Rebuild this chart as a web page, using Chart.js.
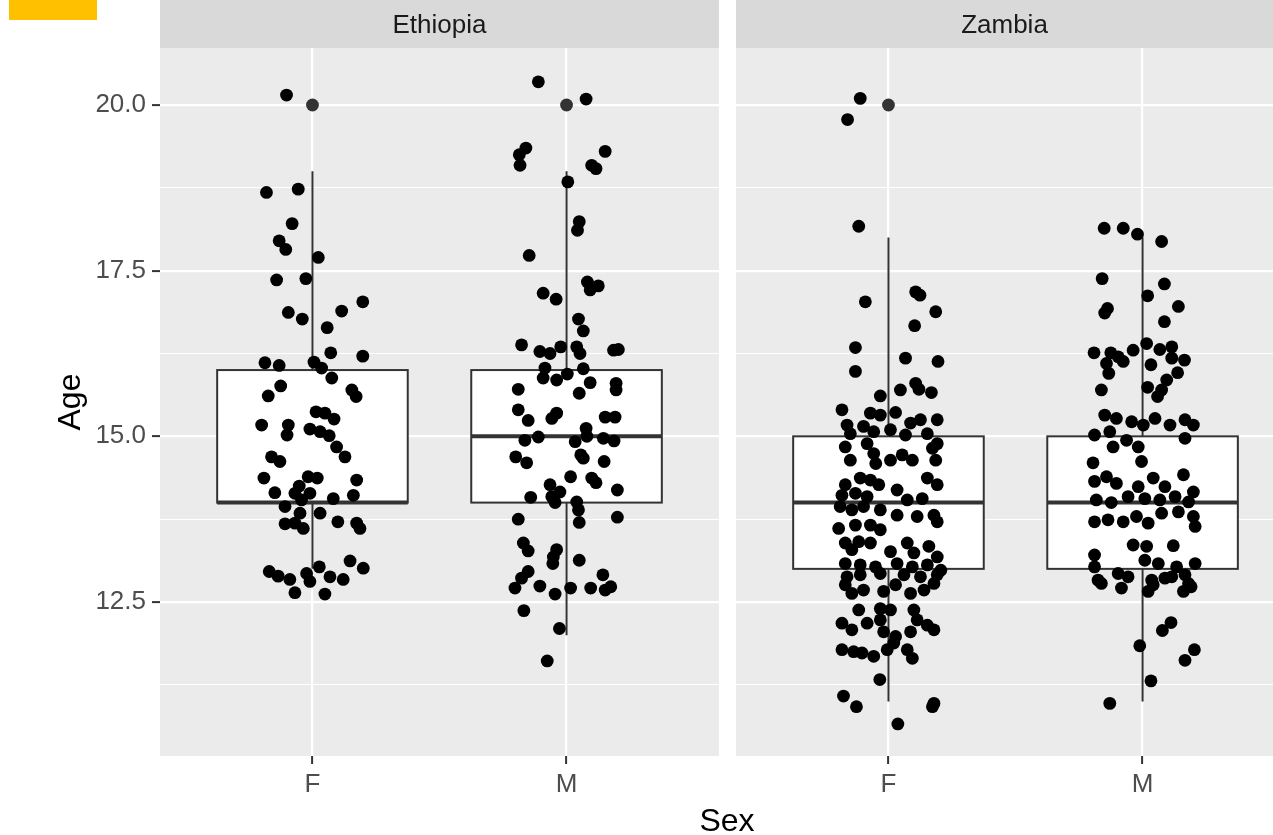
<!DOCTYPE html>
<html lang="en">
  <head>
    <meta charset="UTF-8" />
    <title>Age by Sex</title>
    <script src="https://cdn.jsdelivr.net/npm/chart.js"></script>
    <style>
      body { margin: 0; background: #fff; width: 1273px; height: 835px; overflow: hidden; position: relative; font-family: "Liberation Sans", Arial, sans-serif; }
      canvas { position: absolute; top: 0; }
      #left { left: 0; }
      #right { left: 736px; }
      #sexTitle { position: absolute; left: 627px; width: 200px; top: 804px; line-height: 32px; text-align: center; font-size: 32px; color: #000; }
      #mark { position: absolute; left: 9px; top: 0; width: 88px; height: 20px; background: #ffc000; }
    </style>
  </head>
  <body>
    <div id="mark"></div>
    <canvas id="left" width="719" height="835"></canvas>
    <canvas id="right" width="537" height="835"></canvas>
    <div id="sexTitle">Sex</div>

    <script>
      // axes
      const sexLabels = ["F", "M"];
      const sexPos = [1, 2];
      const yTicks = [11.25, 12.5, 13.75, 15, 16.25, 17.5, 18.75, 20];
      const yMajor = [12.5, 15, 17.5, 20];
      const yMin = 10.176;
      const yMax = 20.86;

      // boxplot stats: Ethiopia F, Ethiopia M, Zambia F, Zambia M
      const boxCenter = [1, 2, 1, 2];
      const whiskerLow = [13, 12, 11, 11];
      const boxQ1 = [14, 14, 13, 13];
      const boxMedian = [14, 15, 14, 14];
      const boxQ3 = [16, 16, 15, 15];
      const whiskerHigh = [19, 19, 18, 18];

      // outliers (exact values)
      const ethiopiaOutliers = [[1, 20], [2, 20]];
      const zambiaOutliers = [[1, 20]];

      // jittered points [x, age]
      const ethiopiaF = [
        [0.898,20.15],
        [0.819,18.68],[0.944,18.73],[0.920,18.21],[0.869,17.95],[0.895,17.82],[1.023,17.70],
        [0.859,17.36],[0.974,17.38],[1.198,17.03],[1.115,16.89],[0.905,16.87],[0.960,16.77],[1.058,16.64],
        [1.072,16.26],[1.198,16.21],[0.813,16.11],[0.869,16.07],[1.006,16.12],[1.036,16.03],
        [1.076,15.88],[0.875,15.76],[0.826,15.61],[1.155,15.70],[1.172,15.60],
        [1.014,15.37],[1.049,15.35],[1.085,15.26],[0.800,15.17],[0.905,15.17],[0.900,15.02],[0.990,15.11],[1.030,15.07],[1.066,15.01],
        [1.095,14.84],[1.128,14.69],[0.839,14.69],[0.872,14.62],
        [0.809,14.37],[0.983,14.39],[1.019,14.37],[0.948,14.25],[0.852,14.15],[0.931,14.14],[0.990,14.14],[1.174,14.34],[1.161,14.11],[1.082,14.06],[0.957,14.04],
        [0.892,13.94],[0.951,13.84],[1.030,13.84],[1.100,13.71],[1.174,13.69],[1.187,13.61],[0.892,13.68],[0.931,13.69],[0.964,13.61],
        [1.148,13.12],[1.200,13.01],[1.027,13.03],[0.830,12.96],[0.865,12.89],[0.911,12.84],[0.977,12.93],[0.990,12.81],[1.069,12.88],[1.121,12.84],[0.931,12.64],[1.049,12.62]
      ];
      const ethiopiaM = [
        [1.889,20.35],[2.077,20.09],
        [1.840,19.35],[1.814,19.25],[1.817,19.09],[2.152,19.30],[2.099,19.09],[2.116,19.04],[2.005,18.84],
        [2.050,18.24],[2.043,18.11],[1.853,17.73],[2.082,17.33],[2.125,17.27],[2.093,17.21],[1.908,17.16],[1.959,17.07],
        [2.047,16.77],[2.066,16.59],[1.823,16.38],[1.895,16.28],[1.935,16.25],[1.977,16.35],[2.040,16.35],[2.053,16.25],[2.185,16.30],[2.204,16.31],[1.915,16.03],[2.066,16.02],
        [1.908,15.88],[1.961,15.85],[2.003,15.94],[2.093,15.81],[2.195,15.80],[2.195,15.70],[1.810,15.71],[2.050,15.65],
        [1.810,15.40],[1.849,15.24],[1.942,15.27],[1.961,15.35],[2.152,15.29],[2.191,15.29],[2.077,15.12],[2.080,15.00],
        [1.836,14.94],[1.889,14.99],[2.034,14.92],[2.145,14.97],[2.187,14.93],
        [1.800,14.69],[1.843,14.60],[2.056,14.72],[2.066,14.67],[2.148,14.62],
        [2.016,14.39],[2.099,14.37],[2.116,14.30],[2.200,14.19],[1.935,14.27],[1.859,14.08],[1.942,14.09],[1.974,14.16],[1.955,14.00],[2.040,14.01],[2.047,13.89],
        [1.810,13.75],[2.200,13.78],[2.050,13.70],
        [1.830,13.39],[1.849,13.27],[1.961,13.29],[1.948,13.18],[1.946,13.08],[2.050,13.13],
        [1.849,12.96],[1.823,12.86],[1.797,12.71],[1.895,12.74],[1.955,12.62],[2.016,12.71],[2.095,12.71],[2.143,12.91],[2.152,12.68],[2.174,12.73],
        [1.832,12.37],[1.972,12.10],[1.924,11.61]
      ];
      const zambiaF = [
        [0.889,20.10],[0.839,19.78],[0.883,18.17],
        [1.107,17.18],[1.124,17.13],[0.909,17.03],[1.186,16.88],[1.103,16.67],[0.870,16.34],[1.067,16.18],[1.195,16.13],[0.870,15.98],
        [1.107,15.80],[1.120,15.71],[1.047,15.70],[1.169,15.66],[0.968,15.61],[0.817,15.40],[0.929,15.35],[1.028,15.36],[1.192,15.25],
        [0.968,15.32],[1.087,15.20],[1.126,15.25],
        [0.837,15.17],[0.850,15.04],[0.902,15.15],[0.942,15.07],[1.008,15.10],[1.067,15.02],[1.153,15.04],[1.192,14.89],
        [0.830,14.84],[0.916,14.89],[0.942,14.74],[0.850,14.64],[0.950,14.59],[1.008,14.64],[1.054,14.72],[1.094,14.64],[1.173,14.82],[1.186,14.64],
        [1.153,14.37],[1.192,14.27],[0.830,14.27],[0.889,14.37],[0.929,14.34],[0.962,14.27],[1.034,14.19],[0.817,14.11],[0.870,14.14],[0.916,14.09],[1.074,14.04],[1.133,14.06],
        [0.810,13.94],[0.856,13.89],[0.902,13.94],[0.968,13.89],[1.034,13.81],[1.113,13.79],[1.179,13.81],[0.804,13.61],[0.870,13.66],[0.929,13.66],[0.968,13.59],[1.192,13.71],
        [0.830,13.39],[0.883,13.41],[0.929,13.39],[0.856,13.29],[1.008,13.26],[1.074,13.39],[1.100,13.24],[1.159,13.34],[1.192,13.18],
        [0.830,13.08],[0.889,13.06],[0.949,13.03],[1.034,13.08],[1.094,13.03],[1.153,13.06],[1.206,12.98],
        [0.837,12.88],[0.889,12.91],[0.968,12.93],[1.061,12.91],[1.126,12.88],[1.192,12.91],
        [0.830,12.76],[0.856,12.63],[0.902,12.68],[0.981,12.66],[1.028,12.76],[1.087,12.63],[1.140,12.68],[1.179,12.78],
        [0.883,12.38],[0.968,12.40],[1.008,12.38],[1.100,12.38],[0.817,12.18],[0.856,12.08],[0.916,12.18],[0.968,12.23],[0.981,12.05],[1.028,11.98],[1.113,12.23],[1.153,12.15],[1.179,12.08],[1.087,12.05],
        [0.817,11.78],[0.863,11.75],[0.896,11.73],[0.942,11.68],[0.995,11.78],[1.021,11.88],[1.074,11.78],[1.094,11.65],
        [0.966,11.33],[0.823,11.08],[0.874,10.92],[1.179,10.97],[1.173,10.92],[1.037,10.66]
      ];
      const zambiaM = [
        [1.849,18.14],[1.924,18.14],[1.980,18.05],[2.075,17.94],
        [1.841,17.38],[2.086,17.30],[2.020,17.12],[2.141,16.96],[1.862,16.93],[1.851,16.86],[2.086,16.73],
        [1.809,16.26],[1.875,16.26],[1.904,16.20],[1.924,16.13],[1.858,16.10],[1.963,16.30],[2.016,16.40],[2.068,16.31],[2.115,16.35],[2.115,16.18],[2.165,16.15],[2.033,16.08],
        [1.867,15.95],[2.138,15.96],[2.095,15.85],[1.838,15.70],[2.020,15.74],[2.075,15.70],[2.059,15.60],
        [1.851,15.32],[1.897,15.27],[1.957,15.22],[2.003,15.17],[2.049,15.27],[2.108,15.17],[2.167,15.25],[2.200,15.17],
        [1.811,15.02],[1.871,15.07],[1.937,14.94],[2.167,14.97],[1.884,14.84],[1.983,14.84],
        [1.996,14.62],[1.805,14.60],
        [1.811,14.32],[1.858,14.39],[1.897,14.29],[1.983,14.24],[2.042,14.37],[2.088,14.24],[2.161,14.42],[2.200,14.16],
        [1.818,14.04],[1.877,14.00],[1.943,14.09],[2.009,14.06],[2.068,14.04],[2.128,14.09],[2.181,14.01],
        [1.811,13.71],[1.864,13.74],[1.924,13.71],[1.976,13.79],[2.022,13.69],[2.075,13.84],[2.141,13.86],[2.200,13.79],[2.207,13.64],
        [1.963,13.36],[2.016,13.34],[2.121,13.35],[1.811,13.21],[2.009,13.13],[2.062,13.08],[2.134,13.03],[2.207,13.08],[1.811,13.03],[1.904,12.93],[1.943,12.88],[1.825,12.83],[2.036,12.83],[2.088,12.86],[2.181,12.78],
        [1.838,12.78],[1.917,12.71],[2.022,12.66],[2.042,12.76],[2.115,12.88],[2.167,12.91],[2.161,12.66],[2.191,12.73],
        [2.112,12.19],[2.078,12.07],[1.989,11.84],[2.204,11.78],[2.167,11.62],[2.033,11.31],[1.871,10.97]
      ];

      const FONT = "'Liberation Sans', Arial, Helvetica, sans-serif";
      Chart.defaults.font.family = FONT;

      const isMajor = (v) => yMajor.some((m) => Math.abs(m - v) < 1e-6);
      const toPts = (arr) => arr.map((p) => ({ x: p[0], y: p[1] }));

      // grey panel + strip on top
      const panelPlugin = {
        id: "panel",
        beforeDraw(chart, args, opts) {
          const { ctx, chartArea: a } = chart;
          ctx.save();
          ctx.fillStyle = "#EBEBEB";
          ctx.fillRect(a.left, a.top, a.right - a.left, a.bottom - a.top);
          ctx.fillStyle = "#D9D9D9";
          ctx.fillRect(a.left, 0, a.right - a.left, a.top);
          ctx.fillStyle = "#1A1A1A";
          ctx.font = "26px " + FONT;
          ctx.textAlign = "center";
          ctx.textBaseline = "middle";
          ctx.fillText(opts.label, (a.left + a.right) / 2, a.top / 2 + 2);
          ctx.restore();
        },
      };

      // box + whiskers, drawn under the points
      const boxPlugin = {
        id: "boxes",
        beforeDatasetsDraw(chart, args, opts) {
          const { ctx, scales: { x, y } } = chart;
          ctx.save();
          ctx.strokeStyle = "#333333";
          opts.groups.forEach((i) => {
            const xc = x.getPixelForValue(boxCenter[i]);
            const xl = x.getPixelForValue(boxCenter[i] - 0.375);
            const xr = x.getPixelForValue(boxCenter[i] + 0.375);
            const yq1 = y.getPixelForValue(boxQ1[i]);
            const yq3 = y.getPixelForValue(boxQ3[i]);
            ctx.lineWidth = 2;
            ctx.beginPath();
            ctx.moveTo(xc, y.getPixelForValue(whiskerHigh[i]));
            ctx.lineTo(xc, yq3);
            ctx.moveTo(xc, yq1);
            ctx.lineTo(xc, y.getPixelForValue(whiskerLow[i]));
            ctx.stroke();
            ctx.fillStyle = "#FFFFFF";
            ctx.fillRect(xl, yq3, xr - xl, yq1 - yq3);
            ctx.strokeRect(xl, yq3, xr - xl, yq1 - yq3);
            ctx.lineWidth = 4;
            ctx.beginPath();
            const ym = y.getPixelForValue(boxMedian[i]);
            ctx.moveTo(xl, ym);
            ctx.lineTo(xr, ym);
            ctx.stroke();
          });
          ctx.restore();
        },
      };

      function makePanel(id, label, points, outliers, groups, xMax, showY) {
        new Chart(document.getElementById(id), {
          type: "scatter",
          data: {
            datasets: [
              { data: toPts(points), backgroundColor: "#000000", pointRadius: 6.4, pointHoverRadius: 6.4, pointBorderWidth: 0 },
              { data: toPts(outliers), backgroundColor: "#333333", pointRadius: 6.4, pointHoverRadius: 6.4, pointBorderWidth: 0 },
            ],
          },
          plugins: [panelPlugin, boxPlugin],
          options: {
            responsive: false,
            animation: false,
            events: [],
            layout: { autoPadding: false, padding: { top: 48, right: 0, bottom: 0, left: 0 } },
            plugins: {
              legend: { display: false },
              tooltip: { enabled: false },
              panel: { label: label },
              boxes: { groups: groups },
            },
            scales: {
              x: {
                type: "linear",
                min: 0.4,
                max: xMax,
                afterBuildTicks: (s) => { s.ticks = sexPos.map((v) => ({ value: v })); },
                afterFit: (s) => { s.height = 79; },
                border: { display: false },
                grid: { color: "#FFFFFF", lineWidth: 2.2, tickLength: 8, tickColor: "#333333", tickWidth: 2 },
                ticks: {
                  autoSkip: false,
                  maxRotation: 0,
                  padding: 5,
                  color: "#4D4D4D",
                  font: { size: 26 },
                  callback: (v) => sexLabels[sexPos.indexOf(v)] || "",
                },
              },
              y: {
                type: "linear",
                min: yMin,
                max: yMax,
                afterBuildTicks: (s) => { s.ticks = yTicks.map((v) => ({ value: v })); },
                afterFit: (s) => { s.width = showY ? 160 : 0; },
                border: { display: false },
                grid: {
                  color: "#FFFFFF",
                  lineWidth: (c) => (isMajor(c.tick.value) ? 2.2 : 1.1),
                  drawTicks: showY,
                  tickLength: 8,
                  tickWidth: 2,
                  tickColor: (c) => (isMajor(c.tick.value) ? "#333333" : "rgba(0,0,0,0)"),
                },
                ticks: {
                  display: showY,
                  autoSkip: false,
                  padding: 6,
                  color: "#4D4D4D",
                  font: { size: 26 },
                  callback: (v) => (isMajor(v) ? v.toFixed(1) : ""),
                },
                title: {
                  display: showY,
                  text: "Age",
                  color: "#000000",
                  font: { size: 32 },
                  padding: { top: 52, bottom: 0 },
                },
              },
            },
          },
        });
      }

      makePanel("left", "Ethiopia", ethiopiaF.concat(ethiopiaM), ethiopiaOutliers, [0, 1], 2.6, true);
      makePanel("right", "Zambia", zambiaF.concat(zambiaM), zambiaOutliers, [2, 3], 0.4 + 537 / 254.1, false);
    </script>
  </body>
</html>
